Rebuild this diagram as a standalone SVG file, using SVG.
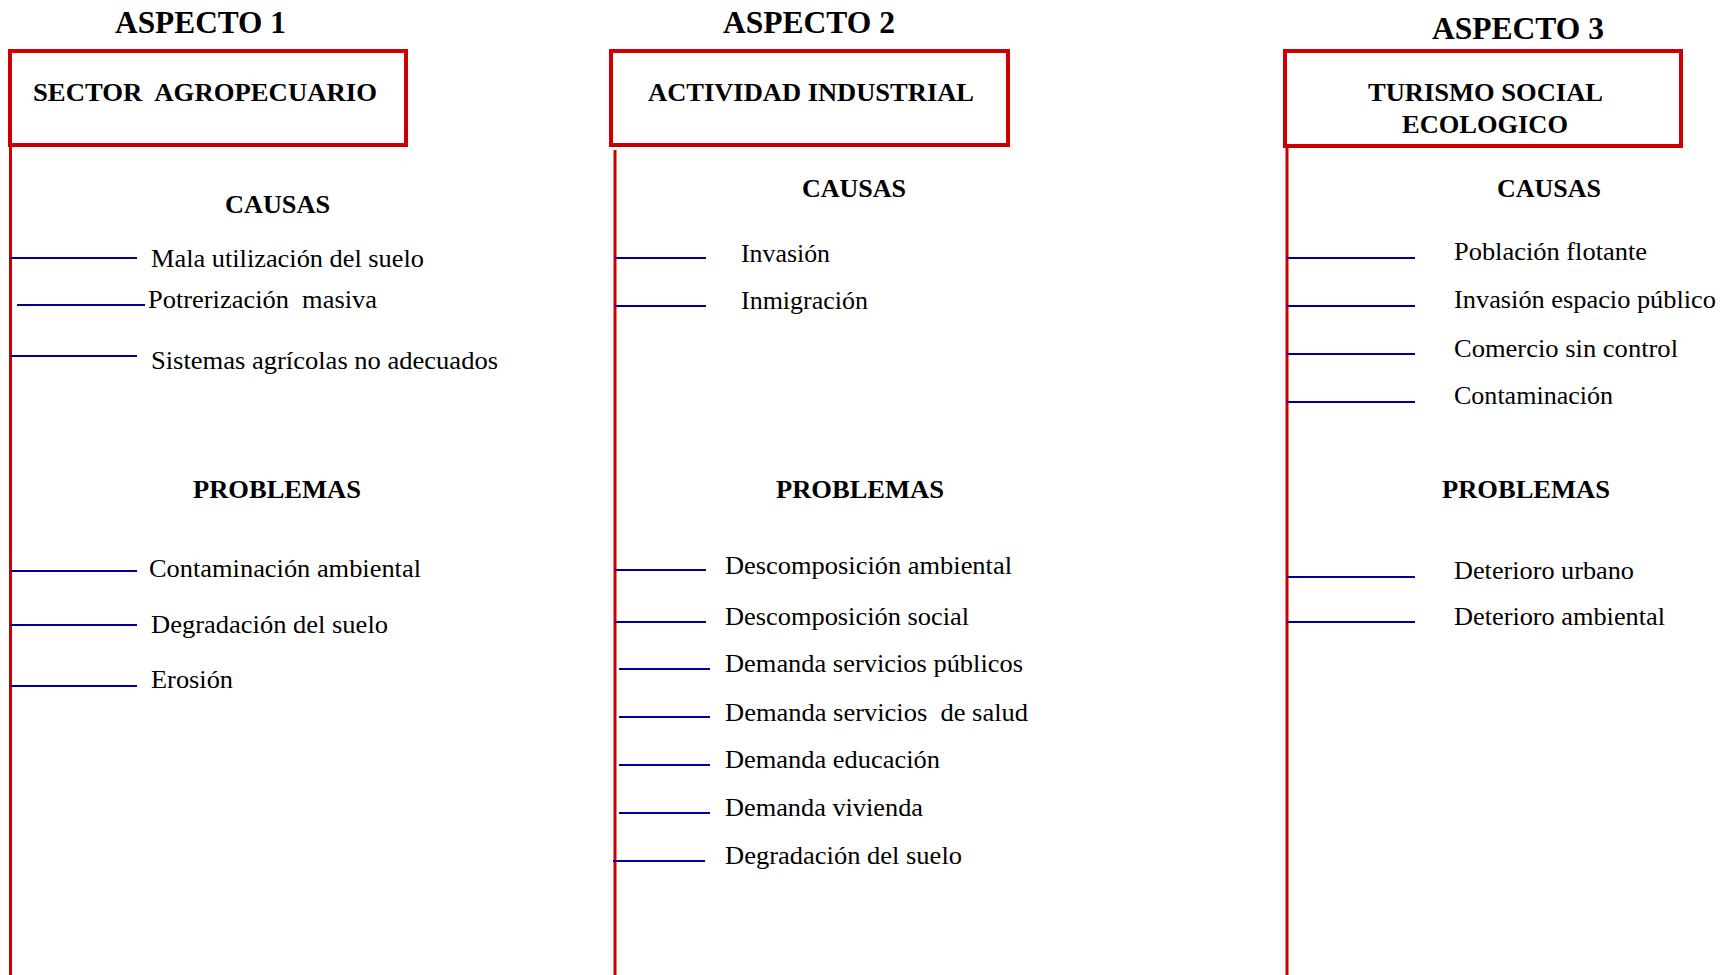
<svg xmlns="http://www.w3.org/2000/svg" width="1730" height="975" viewBox="0 0 1730 975">
<style>
.box{fill:#fff;stroke:#CC0000;stroke-width:4}
.spine{stroke:#CC0000;stroke-width:3;fill:none}
.tick{stroke:#000099;stroke-width:2;fill:none}
.asp{font-family:"Liberation Serif",serif;font-weight:bold;font-size:31px;fill:#000}
.hd{font-family:"Liberation Serif",serif;font-weight:bold;font-size:26px;fill:#000}
.it{font-family:"Liberation Serif",serif;font-size:26px;fill:#000}
</style>
<rect width="1730" height="975" fill="#fff"/>
<g id="connectors">
<line class="spine" x1="10.5" y1="145" x2="10.5" y2="975"/>
<line class="spine" x1="615" y1="150" x2="615" y2="975"/>
<line class="spine" x1="1287" y1="146" x2="1287" y2="975"/>
<line class="tick" x1="10" y1="258" x2="137" y2="258"/>
<line class="tick" x1="17" y1="305" x2="145" y2="305"/>
<line class="tick" x1="10" y1="356" x2="137" y2="356"/>
<line class="tick" x1="10" y1="571" x2="137" y2="571"/>
<line class="tick" x1="10" y1="625" x2="137" y2="625"/>
<line class="tick" x1="10" y1="686" x2="137" y2="686"/>
<line class="tick" x1="615" y1="258" x2="706" y2="258"/>
<line class="tick" x1="615" y1="306" x2="706" y2="306"/>
<line class="tick" x1="615" y1="570" x2="706" y2="570"/>
<line class="tick" x1="615" y1="622" x2="706" y2="622"/>
<line class="tick" x1="619" y1="669" x2="710" y2="669"/>
<line class="tick" x1="619" y1="717" x2="710" y2="717"/>
<line class="tick" x1="619" y1="765" x2="710" y2="765"/>
<line class="tick" x1="619" y1="813" x2="710" y2="813"/>
<line class="tick" x1="613" y1="861" x2="705" y2="861"/>
<line class="tick" x1="1287" y1="258" x2="1415" y2="258"/>
<line class="tick" x1="1287" y1="306" x2="1415" y2="306"/>
<line class="tick" x1="1287" y1="354" x2="1415" y2="354"/>
<line class="tick" x1="1287" y1="402" x2="1415" y2="402"/>
<line class="tick" x1="1287" y1="577" x2="1415" y2="577"/>
<line class="tick" x1="1287" y1="622" x2="1415" y2="622"/>
</g>
<g id="aspecto1">
<text class="asp" x="115" y="33" textLength="171" lengthAdjust="spacingAndGlyphs">ASPECTO 1</text>
<rect class="box" x="10" y="51" width="396" height="94"/>
<text class="hd" x="33" y="101" textLength="344" lengthAdjust="spacingAndGlyphs" xml:space="preserve">SECTOR  AGROPECUARIO</text>
<text class="hd" x="225" y="213" textLength="105" lengthAdjust="spacingAndGlyphs">CAUSAS</text>
<text class="it" x="151" y="267" textLength="273" lengthAdjust="spacingAndGlyphs">Mala utilización del suelo</text>
<text class="it" x="148" y="308" textLength="229" lengthAdjust="spacingAndGlyphs" xml:space="preserve">Potrerización  masiva</text>
<text class="it" x="151" y="369" textLength="347" lengthAdjust="spacingAndGlyphs">Sistemas agrícolas no adecuados</text>
<text class="hd" x="193" y="498" textLength="168" lengthAdjust="spacingAndGlyphs">PROBLEMAS</text>
<text class="it" x="149" y="577" textLength="272" lengthAdjust="spacingAndGlyphs">Contaminación ambiental</text>
<text class="it" x="151" y="633" textLength="237" lengthAdjust="spacingAndGlyphs">Degradación del suelo</text>
<text class="it" x="151" y="688" textLength="82" lengthAdjust="spacingAndGlyphs">Erosión</text>
</g>
<g id="aspecto2">
<text class="asp" x="723" y="33" textLength="172" lengthAdjust="spacingAndGlyphs">ASPECTO 2</text>
<rect class="box" x="611" y="51" width="397" height="94"/>
<text class="hd" x="648" y="101" textLength="326" lengthAdjust="spacingAndGlyphs">ACTIVIDAD INDUSTRIAL</text>
<text class="hd" x="802" y="197" textLength="104" lengthAdjust="spacingAndGlyphs">CAUSAS</text>
<text class="it" x="741" y="262" textLength="89" lengthAdjust="spacingAndGlyphs">Invasión</text>
<text class="it" x="741" y="309" textLength="127" lengthAdjust="spacingAndGlyphs">Inmigración</text>
<text class="hd" x="776" y="498" textLength="168" lengthAdjust="spacingAndGlyphs">PROBLEMAS</text>
<text class="it" x="725" y="574" textLength="287" lengthAdjust="spacingAndGlyphs">Descomposición ambiental</text>
<text class="it" x="725" y="625" textLength="244" lengthAdjust="spacingAndGlyphs">Descomposición social</text>
<text class="it" x="725" y="672" textLength="298" lengthAdjust="spacingAndGlyphs">Demanda servicios públicos</text>
<text class="it" x="725" y="721" textLength="303" lengthAdjust="spacingAndGlyphs" xml:space="preserve">Demanda servicios  de salud</text>
<text class="it" x="725" y="768" textLength="215" lengthAdjust="spacingAndGlyphs">Demanda educación</text>
<text class="it" x="725" y="816" textLength="198" lengthAdjust="spacingAndGlyphs">Demanda vivienda</text>
<text class="it" x="725" y="864" textLength="237" lengthAdjust="spacingAndGlyphs">Degradación del suelo</text>
</g>
<g id="aspecto3">
<text class="asp" x="1432" y="39" textLength="172" lengthAdjust="spacingAndGlyphs">ASPECTO 3</text>
<rect class="box" x="1285" y="51" width="396" height="95"/>
<text class="hd" x="1368" y="101" textLength="235" lengthAdjust="spacingAndGlyphs">TURISMO SOCIAL</text>
<text class="hd" x="1402" y="133" textLength="166" lengthAdjust="spacingAndGlyphs">ECOLOGICO</text>
<text class="hd" x="1497" y="197" textLength="104" lengthAdjust="spacingAndGlyphs">CAUSAS</text>
<text class="it" x="1454" y="260" textLength="193" lengthAdjust="spacingAndGlyphs">Población flotante</text>
<text class="it" x="1454" y="308" textLength="262" lengthAdjust="spacingAndGlyphs">Invasión espacio público</text>
<text class="it" x="1454" y="357" textLength="224" lengthAdjust="spacingAndGlyphs">Comercio sin control</text>
<text class="it" x="1454" y="404" textLength="159" lengthAdjust="spacingAndGlyphs">Contaminación</text>
<text class="hd" x="1442" y="498" textLength="168" lengthAdjust="spacingAndGlyphs">PROBLEMAS</text>
<text class="it" x="1454" y="579" textLength="180" lengthAdjust="spacingAndGlyphs">Deterioro urbano</text>
<text class="it" x="1454" y="625" textLength="211" lengthAdjust="spacingAndGlyphs">Deterioro ambiental</text>
</g>
</svg>
